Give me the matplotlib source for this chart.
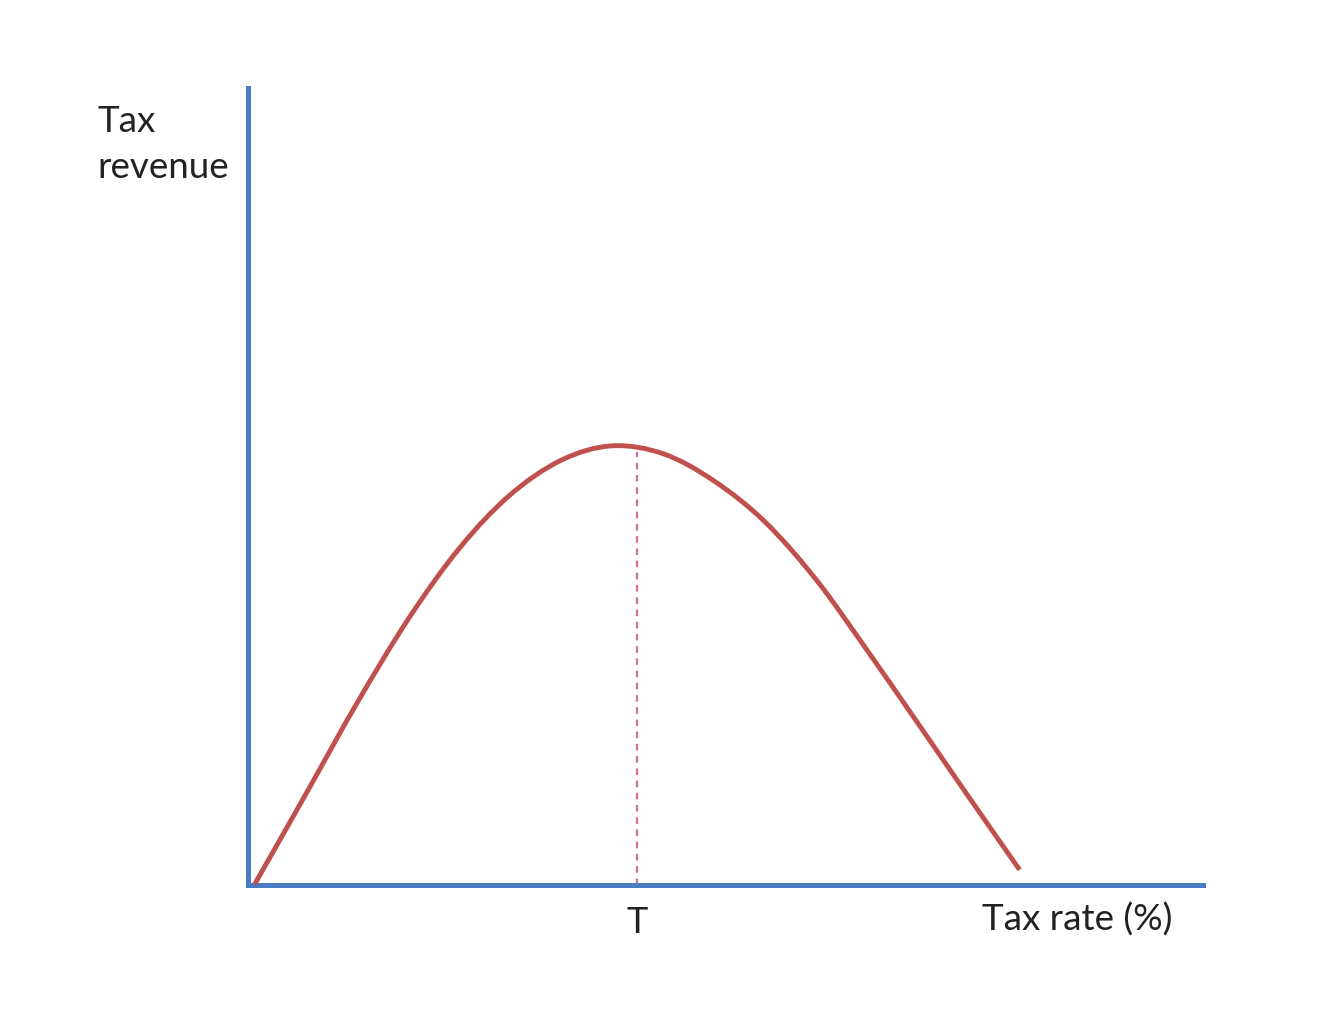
import matplotlib.pyplot as plt
from matplotlib.path import Path
from matplotlib.patches import PathPatch

# Laffer curve (x: tax rate in % of axis, y: revenue in % of axis)
tax_rate = [0.7, 6.1, 11.4, 16.8, 22.1, 27.4, 32.8, 38.1, 43.5, 48.8, 54.1,
            59.5, 64.8, 70.2, 75.5, 80.8]
revenue = [0.1, 11.5, 22.8, 33.4, 42.2, 48.9, 53.3, 55.1, 54.1, 50.7, 45.6,
           38.3, 29.5, 20.2, 11.0, 1.9]

t_rate = 40.7
t_top = 54.3

blue = "#4a7cc4"
red = "#c0504d"
txt = "#222222"

plt.rcParams['font.family'] = ['Lato', 'DejaVu Sans']


def smooth_path(xs, ys):
    # cubic bezier through the read points (catmull-rom handles)
    pts = list(zip(xs, ys))
    verts = [pts[0]]
    codes = [Path.MOVETO]
    for i in range(len(pts) - 1):
        p0 = pts[i - 1] if i > 0 else pts[i]
        p1 = pts[i]
        p2 = pts[i + 1]
        p3 = pts[i + 2] if i + 2 < len(pts) else pts[i + 1]
        c1 = (p1[0] + (p2[0] - p0[0]) / 6, p1[1] + (p2[1] - p0[1]) / 6)
        c2 = (p2[0] - (p3[0] - p1[0]) / 6, p2[1] - (p3[1] - p1[1]) / 6)
        verts += [c1, c2, p2]
        codes += [Path.CURVE4] * 3
    return Path(verts, codes)


fig = plt.figure(figsize=(13.34, 10.14), dpi=100)
W, H = 1334, 1014
ax = fig.add_axes([248/W, (H-885)/H, (1203-248)/W, (885-88)/H])

curve = PathPatch(smooth_path(tax_rate, revenue), facecolor="none", edgecolor=red,
                  linewidth=3.5, capstyle="butt", zorder=3)
ax.add_patch(curve)
ax.plot([t_rate, t_rate], [0, t_top], color="#d5708f", linewidth=1.6,
        linestyle=(0, (3, 2.5)), zorder=2)

ax.set_xlim(0, 100)
ax.set_ylim(0, 100)
for s in ["top", "right"]:
    ax.spines[s].set_visible(False)
for s in ["left", "bottom"]:
    ax.spines[s].set_color(blue)
    ax.spines[s].set_linewidth(3.6)
ax.set_xticks([])
ax.set_yticks([])

ax.text(t_rate, -2.6, "T", ha="center", va="top", fontsize=26, color=txt)
ax.text(86.8, -2.2, "Tax rate (%)", ha="center", va="top", fontsize=26.5, color=txt)
fig.text(97/W, 1 - 105/H, "Tax\nrevenue", ha="left", va="top", fontsize=26.5,
         color=txt, linespacing=1.5)

fig.savefig("out.png", dpi=100, facecolor="white")
